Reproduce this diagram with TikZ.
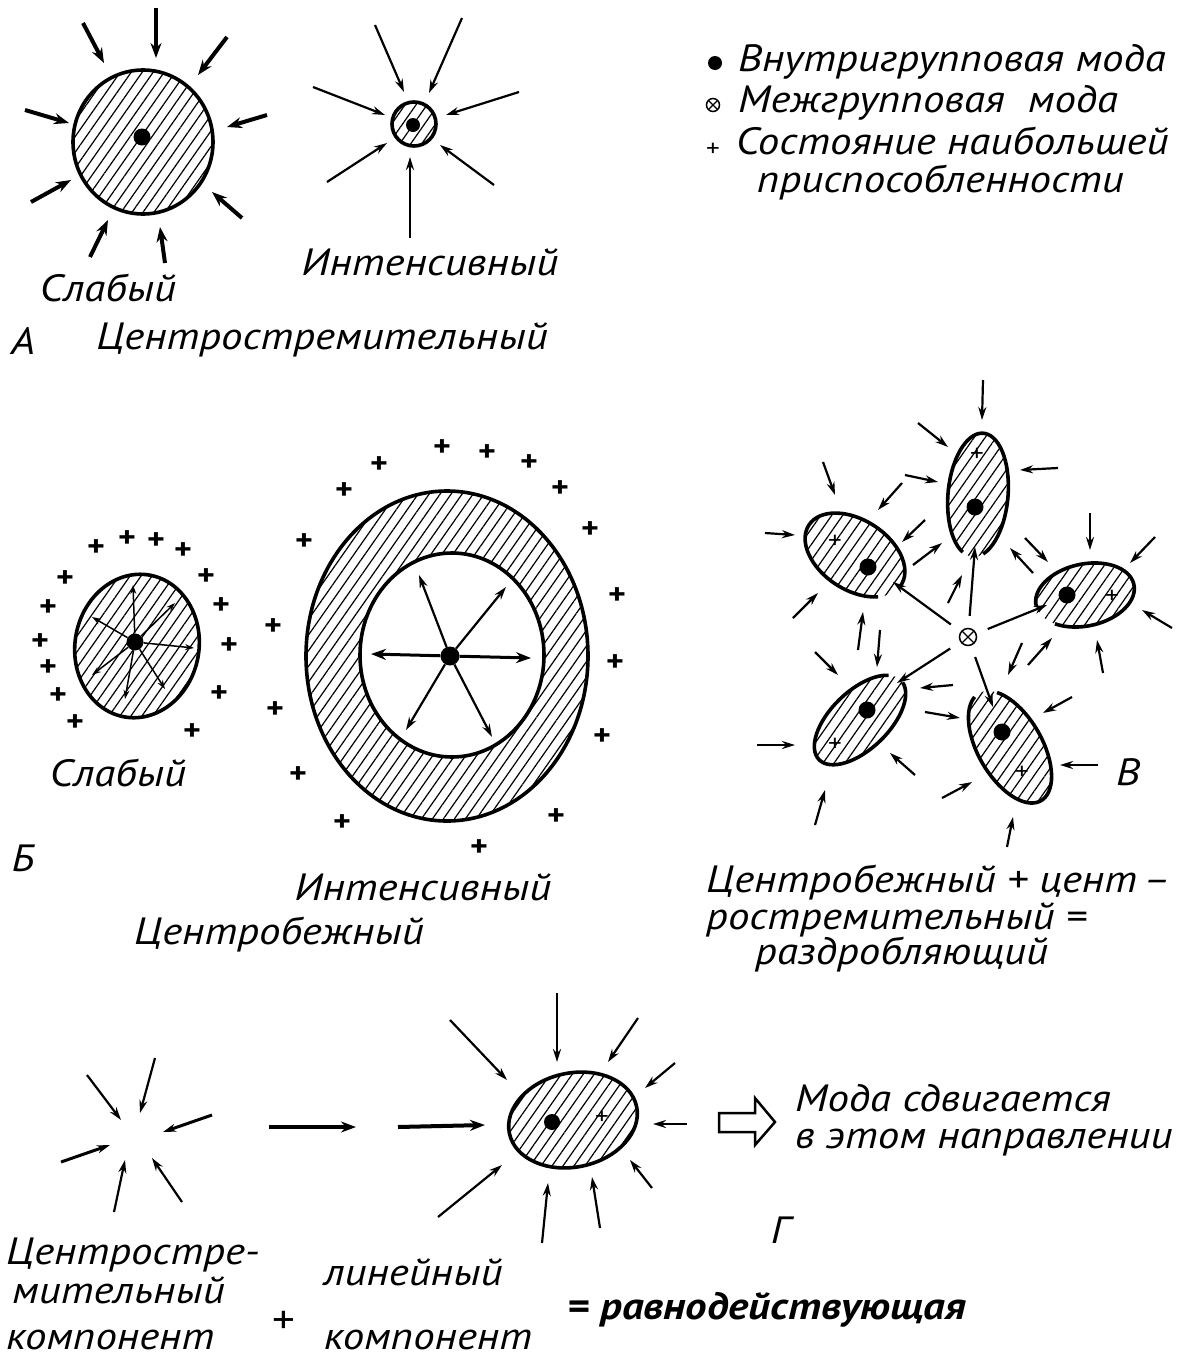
\documentclass[tikz,border=0pt]{standalone}
\usepackage{fontspec}
\usepackage{tikz}
\usetikzlibrary{arrows.meta,patterns.meta}
\newfontfamily\draftfont[FakeStretch=1.13]{PT Sans}
\tikzset{
  mode/.style={circle,fill=black,inner sep=0pt,minimum size=17pt},
  inter/.style={circle,draw=black,line width=1.5pt,fill=white,inner sep=0pt,minimum size=17pt,
    path picture={\draw[line width=1.3pt] (path picture bounding box.south west)--(path picture bounding box.north east)
      (path picture bounding box.north west)--(path picture bounding box.south east);}},
  hatch/.style={pattern={Lines[angle=55,distance=9pt,line width=1.2pt]}},
  rim/.style={draw=black,line width=3.6pt},
  blob/.style={rim,hatch},
  pull/.style={line width=2.2pt,-{Stealth[length=13pt,width=8pt]}},
  heavy/.style={line width=4pt,-{Stealth[length=15pt,width=11pt]}},
  fine/.style={line width=1.5pt,-{Stealth[length=9pt,width=6pt]}},
  lab/.style={font=\draftfont\itshape\fontsize{38}{42}\selectfont,inner sep=0pt},
  plus/.style={font=\draftfont\bfseries\fontsize{30}{30}\selectfont,inner sep=0pt},
  inplus/.style={font=\draftfont\fontsize{24}{24}\selectfont,inner sep=0pt},
}

\begin{document}
\begin{tikzpicture}[x=1pt,y=-1pt]
\useasboundingbox (0,0) rectangle (1183,1358);
\fill[white] (0,0) rectangle (1183,1358);

% A: centripetal, weak
\draw[blob] (143,142) ellipse[x radius=70,y radius=72];
\node[mode] (weakA) at (142,137) {};
\draw[heavy] (83,23)--(104,63);
\draw[heavy] (156,8)--(156,58);
\draw[heavy] (227,37)--(198,75);
\draw[heavy] (25,110)--(69,123);
\draw[heavy] (267,115)--(227,127);
\draw[heavy] (31,202)--(71,180);
\draw[heavy] (242,218)--(212,192);
\draw[heavy] (90,257)--(108,220);
\draw[heavy] (165,263)--(160,227);
% A: centripetal, intense
\draw[blob] (414,124) ellipse[x radius=22,y radius=22];
\node[mode,minimum size=14pt] (intA) at (413,125) {};
\draw[pull] (375,25)--(404,92);
\draw[pull] (462,18)--(429,93);
\draw[pull] (313,87)--(385,115);
\draw[pull] (519,92)--(446,115);
\draw[pull] (327,182)--(387,143);
\draw[pull] (494,185)--(440,145);
\draw[pull] (410,238)--(410,157);
\node[lab] (weakAlab) at (108,288) {Слабый};
\node[lab] (intAlab) at (430,262) {Интенсивный};
\node[lab] (letA) at (23,341) {А};
\node[lab] (titleA) at (322,340) {Центростремительный};

% legend
\node[mode,minimum size=14pt] (keymode) at (715,63) {};
\node[inter,minimum size=13pt] (keyinter) at (713,105) {};
\node[plus,font=\draftfont\fontsize{24}{24}\selectfont] (keyplus) at (713,150) {+};
\node[lab,anchor=west] (key1) at (738,62) {Внутригрупповая мода};
\node[lab,anchor=west] (key2) at (738,103) {Межгрупповая\ \ мода};
\node[lab,anchor=west] (key3) at (736,141) {Состояние наибольшей};
\node[lab,anchor=west] (key4) at (757,183) {приспособленности};

% B: centrifugal, weak
\draw[blob,rotate around={-10:(137,646)}] (137,646) ellipse[x radius=62,y radius=72];
\node[mode] (weakB) at (135,642) {};
\draw[fine] (weakB)--(133,585);
\draw[fine] (weakB)--(92,617);
\draw[fine] (weakB)--(175,603);
\draw[fine] (weakB)--(194,648);
\draw[fine] (weakB)--(92,675);
\draw[fine] (weakB)--(125,699);
\draw[fine] (weakB)--(165,689);
\node[plus] (pb1) at (96,548) {+};  \node[plus] (pb2) at (127,539) {+};
\node[plus] (pb3) at (156,541) {+}; \node[plus] (pb4) at (183,551) {+};
\node[plus] (pb5) at (65,579) {+};  \node[plus] (pb6) at (206,577) {+};
\node[plus] (pb7) at (48,608) {+};  \node[plus] (pb8) at (221,606) {+};
\node[plus] (pb9) at (40,642) {+};  \node[plus] (pb10) at (229,646) {+};
\node[plus] (pb11) at (48,668) {+}; \node[plus] (pb12) at (58,696) {+};
\node[plus] (pb13) at (219,694) {+};\node[plus] (pb14) at (75,723) {+};
\node[plus] (pb15) at (192,732) {+};
% B: centrifugal, intense
\fill[hatch,even odd rule] (447,656) ellipse[x radius=141,y radius=165]
  (452,655) ellipse[x radius=92,y radius=102];
\draw[rim] (447,656) ellipse[x radius=141,y radius=165];
\draw[rim] (452,655) ellipse[x radius=92,y radius=102];
\node[mode,minimum size=19pt] (intB) at (450,656) {};
\draw[heavy,line width=3pt] (intB)--(371,654);
\draw[heavy,line width=3pt] (intB)--(531,658);
\draw[pull] (intB)--(419,575);
\draw[pull] (intB)--(506,587);
\draw[pull] (intB)--(406,730);
\draw[pull] (intB)--(492,737);
\node[plus] (pi1) at (442,448) {+};  \node[plus] (pi2) at (487,453) {+};
\node[plus] (pi3) at (529,463) {+};  \node[plus] (pi4) at (379,465) {+};
\node[plus] (pi5) at (344,491) {+};  \node[plus] (pi6) at (560,489) {+};
\node[plus] (pi7) at (304,542) {+};  \node[plus] (pi8) at (590,530) {+};
\node[plus] (pi9) at (617,596) {+};  \node[plus] (pi10) at (273,627) {+};
\node[plus] (pi11) at (615,663) {+}; \node[plus] (pi12) at (275,710) {+};
\node[plus] (pi13) at (602,737) {+}; \node[plus] (pi14) at (298,775) {+};
\node[plus] (pi15) at (342,823) {+}; \node[plus] (pi16) at (556,817) {+};
\node[plus] (pi17) at (479,848) {+};
\node[lab] (weakBlab) at (118,773) {Слабый};
\node[lab] (letB) at (23,858) {Б};
\node[lab] (intBlab) at (423,887) {Интенсивный};
\node[lab] (titleB) at (279,935) {Центробежный};

% C: fragmenting
\begin{scope}[shift={(978,495)},rotate=-5]
  \fill[hatch] (0,0) ellipse[x radius=30,y radius=62];
  \draw[rim] (110:30 and 62) arc[start angle=110,end angle=430,x radius=30,y radius=62];
\end{scope}
\begin{scope}[shift={(855,555)},rotate=-33]
  \fill[hatch] (0,0) ellipse[x radius=55,y radius=35];
  \draw[rim] (40:55 and 35) arc[start angle=40,end angle=365,x radius=55,y radius=35];
\end{scope}
\begin{scope}[shift={(1085,595)},rotate=12]
  \fill[hatch] (0,0) ellipse[x radius=50,y radius=31];
  \draw[rim] (178:50 and 31) arc[start angle=178,end angle=495,x radius=50,y radius=31];
\end{scope}
\begin{scope}[shift={(860,720)},rotate=44]
  \fill[hatch] (0,0) ellipse[x radius=57,y radius=29];
  \draw[rim] (5:57 and 29) arc[start angle=5,end angle=335,x radius=57,y radius=29];
\end{scope}
\begin{scope}[shift={(1010,747)},rotate=-60]
  \fill[hatch] (0,0) ellipse[x radius=62,y radius=32];
  \draw[rim] (210:62 and 32) arc[start angle=210,end angle=530,x radius=62,y radius=32];
\end{scope}
\node[mode] (gtop) at (975,507) {};
\node[mode] (gleft) at (868,567) {};
\node[mode] (gright) at (1067,595) {};
\node[mode] (glow) at (867,710) {};
\node[mode] (gdown) at (1002,732) {};
\node[inplus] (ptop) at (977,455) {+};
\node[inplus] (pleft) at (835,542) {+};
\node[inplus] (pright) at (1112,597) {+};
\node[inplus] (plow) at (835,745) {+};
\node[inplus] (pdown) at (1022,773) {+};
\node[inter] (inter) at (968,637) {};
\draw[pull,shorten <=12pt] (inter)--(893,582);
\draw[pull,shorten <=12pt] (inter)--(975,547);
\draw[pull,shorten <=12pt] (inter)--(1047,605);
\draw[pull,shorten <=12pt] (inter)--(897,683);
\draw[pull,shorten <=12pt] (inter)--(993,707);
\draw[pull] (983,380)--(982,420);
\draw[pull] (918,423)--(948,447);
\draw[pull] (1058,468)--(1020,470);
\draw[pull] (823,462)--(835,495);
\draw[pull] (905,475)--(938,482);
\draw[pull] (902,483)--(878,510);
\draw[pull] (765,533)--(795,535);
\draw[pull] (925,520)--(902,542);
\draw[pull] (913,565)--(942,543);
\draw[pull] (948,603)--(962,575);
\draw[pull] (1090,513)--(1090,550);
\draw[pull] (1155,537)--(1130,563);
\draw[pull] (1033,573)--(1010,548);
\draw[pull] (1025,538)--(1048,562);
\draw[pull] (1172,628)--(1142,610);
\draw[pull] (1103,673)--(1097,640);
\draw[pull] (1022,643)--(1008,675);
\draw[pull] (1028,665)--(1052,638);
\draw[pull] (953,685)--(920,688);
\draw[pull] (925,712)--(960,718);
\draw[pull] (858,650)--(863,612);
\draw[pull] (880,630)--(877,667);
\draw[pull] (815,652)--(838,675);
\draw[pull] (793,618)--(818,593);
\draw[pull] (757,745)--(795,745);
\draw[pull] (915,775)--(890,753);
\draw[pull] (815,825)--(825,790);
\draw[pull] (942,798)--(972,782);
\draw[pull] (1072,697)--(1043,713);
\draw[pull] (1098,765)--(1060,765);
\draw[pull] (1007,847)--(1013,817);
\node[lab] (letC) at (1128,772) {В};
\node[lab,anchor=west] (sumC1) at (706,883) {Центробежный + цент\,–};
\node[lab,anchor=west] (sumC2) at (706,920) {ростремительный =};
\node[lab,anchor=west] (sumC3) at (755,955) {раздробляющий};

% D: resultant
\draw[pull] (87,1075)--(121,1120);
\draw[pull] (155,1058)--(140,1113);
\draw[pull,line width=3pt] (212,1115)--(163,1132);
\draw[pull,line width=3pt] (61,1162)--(110,1145);
\draw[pull] (114,1212)--(125,1160);
\draw[pull] (182,1202)--(152,1158);
\draw[heavy] (269,1127)--(356,1127);
\draw[heavy] (398,1127)--(485,1125);
\draw[blob,rotate around={12:(573,1120)}] (573,1120) ellipse[x radius=65,y radius=47];
\node[mode,minimum size=16pt] (res) at (552,1122) {};
\node[inplus] (pres) at (602,1118) {+};
\draw[pull] (450,1020)--(507,1080);
\draw[pull] (557,993)--(557,1062);
\draw[pull] (638,1018)--(608,1062);
\draw[pull] (675,1063)--(645,1088);
\draw[pull] (687,1124)--(653,1124);
\draw[pull] (438,1217)--(502,1165);
\draw[pull] (542,1243)--(548,1183);
\draw[pull] (600,1228)--(592,1177);
\draw[pull] (652,1188)--(630,1160);
\draw[line width=2.5pt,line join=miter] (719,1113)--(755,1113)--(755,1098)--(775,1122)--(755,1145)--(755,1132)--(719,1132)--cycle;
\node[lab,anchor=west] (shift1) at (795,1098) {Мода сдвигается};
\node[lab,anchor=west] (shift2) at (795,1143) {в этом направлении};
\node[lab] (letD) at (780,1230) {Г};
\node[lab,anchor=west] (cent1) at (6,1255) {Центростре-};
\node[lab,anchor=west] (cent2) at (12,1290) {мительный};
\node[lab,anchor=west] (cent3) at (6,1340) {компонент};
\node[lab,font=\draftfont\fontsize{40}{40}\selectfont] (addD) at (284,1322) {+};
\node[lab] (lin1) at (413,1272) {линейный};
\node[lab] (lin2) at (428,1340) {компонент};
\node[lab,font=\draftfont\bfseries\itshape\fontsize{38}{42}\selectfont] (total) at (767,1310) {= равнодействующая};
\end{tikzpicture}
\end{document}
